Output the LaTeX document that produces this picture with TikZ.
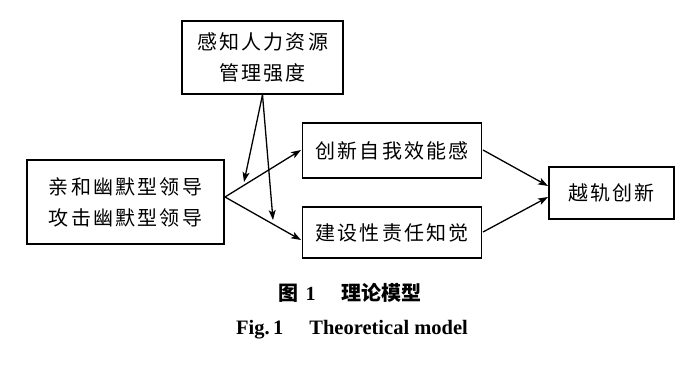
\documentclass[tikz,border=0pt]{standalone}
\usepackage{fontspec}
\setmainfont{Liberation Serif}
\newfontfamily\cjk[LetterSpace=11]{Noto Sans CJK SC}
\newfontfamily\cjkb{Noto Sans CJK SC Bold}
\usetikzlibrary{arrows.meta}
\tikzset{
  box/.style={draw, line width=1.7pt, align=center, inner sep=0pt,
    font=\cjk\fontsize{20}{31}\selectfont},
  arr/.style={line width=1.3pt, -{Stealth[length=10pt,width=7pt,inset=2.5pt]}},
}
\begin{document}
\begin{tikzpicture}[x=1pt,y=-1pt]
\fill[white] (0,0) rectangle (700,365);
\useasboundingbox (0,0) rectangle (700,365);
\node[box, minimum width=161pt, minimum height=73pt] (mod) at (262.5,57.5) {感知人力资源\\管理强度};
\node[box, minimum width=197pt, minimum height=84pt] (lead) at (125.5,202) {亲和幽默型领导\\攻击幽默型领导};
\node[box, minimum width=179pt, minimum height=55pt] (b1) at (392,150.5) {创新自我效能感};
\node[box, minimum width=179pt, minimum height=51pt] (b2) at (392,232.5) {建设性责任知觉};
\node[box, minimum width=125pt, minimum height=52pt] (out) at (611.5,193) {越轨创新};
\coordinate (apex) at (225,197);
\coordinate (in1) at (301,150);
\coordinate (in2) at (301,240);
\coordinate (m1) at (244,182);
\coordinate (m2) at (273,220);
\coordinate (o1) at (548,186);
\coordinate (o2) at (548,197);
\coordinate (s1) at (483,150);
\coordinate (s2) at (483,232);
\draw[arr] (apex) -- (in1);
\draw[arr] (apex) -- (in2);
\draw[arr] (mod.south) -- (m1);
\draw[arr] (mod.south) -- (m2);
\draw[arr] (s1) -- (o1);
\draw[arr] (s2) -- (o2);
\node[font=\fontsize{20}{22}\selectfont\bfseries] (cap1) at (350,293) {{\cjkb 图}\hspace{7pt}1\hspace{26pt}{\cjkb 理论模型}};
\node[font=\fontsize{20.5}{24}\selectfont\bfseries] (cap2) at (352,330) {Fig.\,1\hspace{26pt}Theoretical model};
\end{tikzpicture}
\end{document}
